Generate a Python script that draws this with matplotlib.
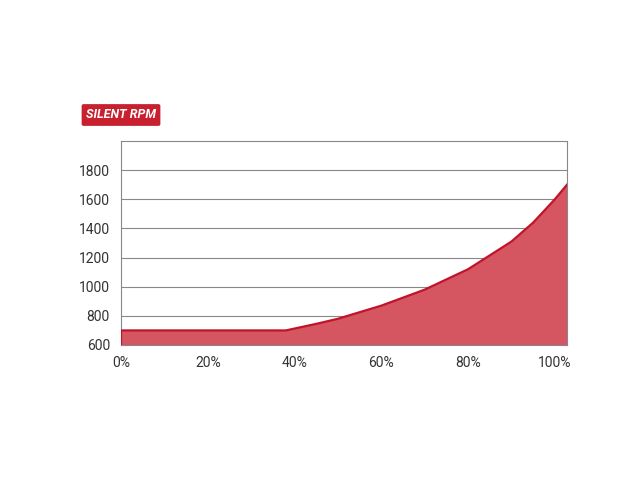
import matplotlib
matplotlib.use("Agg")
import matplotlib.pyplot as plt

# fan curve: speed (fraction) vs rpm
speed = [0.0, 0.0, 0.1, 0.2, 0.3, 0.38, 0.45, 0.5, 0.6, 0.7, 0.8, 0.9, 0.95, 1.0, 1.028]
rpm = [600, 700, 700, 700, 700, 700, 745, 780, 870, 980, 1120, 1310, 1440, 1600, 1700]
yticks = [600, 800, 1000, 1200, 1400, 1600, 1800]
xticks = [0, 0.2, 0.4, 0.6, 0.8, 1.0]
xlabels = ["0%", "20%", "40%", "60%", "80%", "100%"]

plt.rcParams["font.family"] = ["Roboto", "DejaVu Sans"]
fig = plt.figure(figsize=(6.4, 4.8), dpi=100)
ax = fig.add_axes([121/640, 1-345/480, 446/640, 204/480])

ax.fill_between(speed, 600, rpm, color="#d55560", zorder=2)
ax.plot(speed, rpm, color="#c0142a", lw=1.6, zorder=3)
ax.set_xlim(0, 1.028)
ax.set_ylim(600, 2000)
ax.set_yticks(yticks)
ax.set_xticks(xticks)
ax.set_xticklabels(xlabels)
ax.yaxis.grid(True, color="#888888", lw=0.8, zorder=1)
ax.tick_params(length=0, labelsize=10, colors="#333333", pad=8)
for s in ax.spines.values():
    s.set_color("#888888")
    s.set_linewidth(0.8)

fig.text(121/640, 1-115/480, "SILENT RPM", color="white", fontsize=9,
         fontweight="bold", style="italic", ha="center", va="center",
         bbox=dict(boxstyle="round,pad=0.35,rounding_size=0.15",
                   fc="#c8202e", ec="none"))

fig.savefig("out.png", dpi=100)
